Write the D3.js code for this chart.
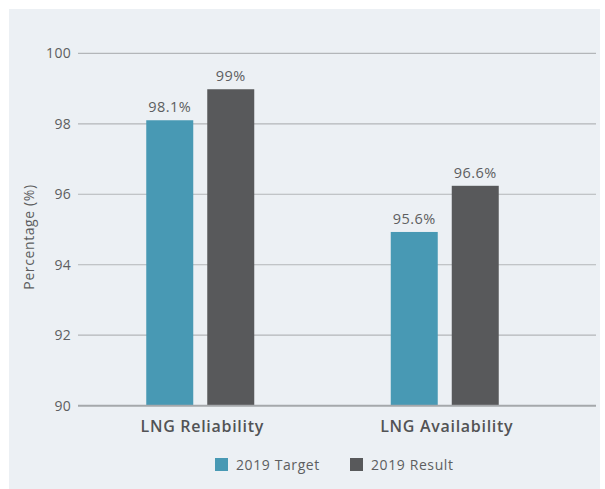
<!DOCTYPE html>
<html lang="en">
  <head>
    <title>LNG Reliability and Availability</title>
    <script src="https://cdn.jsdelivr.net/npm/d3@7"></script>
    <style>
      body { margin: 0; background: white; }
      text { font-family: "Open Sans", sans-serif; }
    </style>
  </head>
  <body>
    <div id="container"></div>
    <script>
      // data
      const categories = ["LNG Reliability", "LNG Availability"];
      const series = ["2019 Target", "2019 Result"];
      const targetValues = [98.1, 94.93];
      const resultValues = [98.98, 96.24];
      const targetLabels = ["98.1%", "95.6%"];
      const resultLabels = ["99%", "96.6%"];
      const yTicks = [90, 92, 94, 96, 98, 100];

      const W = 605, H = 489;
      const colors = ["#4899b4", "#58595b"];
      const textColor = "#5d5e60";

      const svg = d3.select("#container").append("svg")
        .attr("width", W).attr("height", H);

      svg.append("rect")
        .attr("x", 9).attr("y", 9)
        .attr("width", 591).attr("height", H - 9)
        .attr("fill", "#ecf0f4");

      const y = d3.scaleLinear().domain([90, 100]).range([405.7, 53.3]);
      const x = d3.scaleBand().domain(categories).range([78, 567]);
      const xs = d3.scaleBand().domain(series).range([-54, 54]).paddingInner(0.2295);

      // gridlines
      svg.append("g")
        .selectAll("line")
        .data(yTicks.slice(1))
        .enter()
        .append("line")
          .attr("x1", 78).attr("x2", 596)
          .attr("y1", d => y(d)).attr("y2", d => y(d))
          .attr("stroke", "#b3b6b9").attr("stroke-width", 1.2);

      // y axis labels
      const yAxis = svg.append("g")
        .attr("transform", "translate(78,0)")
        .call(d3.axisLeft(y).tickValues(yTicks).tickSize(0).tickPadding(7));
      yAxis.select(".domain").remove();
      yAxis.selectAll("text")
        .style("font-size", "14px").style("letter-spacing", "0.3px")
        .attr("fill", textColor);

      svg.append("text")
        .attr("transform", "translate(34,237) rotate(-90)")
        .attr("text-anchor", "middle")
        .style("font-size", "14px")
        .style("letter-spacing", "0.6px")
        .attr("fill", textColor)
        .text("Percentage (%)");

      const rows = categories.map((c, i) => ({
        cat: c,
        vals: [
          {s: series[0], v: targetValues[i], label: targetLabels[i]},
          {s: series[1], v: resultValues[i], label: resultLabels[i]}
        ]
      }));

      const groups = svg.append("g")
        .selectAll("g")
        .data(rows)
        .enter()
        .append("g")
          .attr("transform", d => `translate(${x(d.cat) + x.bandwidth() / 2},0)`);

      groups.selectAll("rect")
        .data(d => d.vals)
        .enter()
        .append("rect")
          .attr("x", d => xs(d.s))
          .attr("y", d => y(d.v))
          .attr("width", xs.bandwidth())
          .attr("height", d => y(90) - y(d.v))
          .attr("fill", (d, i) => colors[i]);

      groups.selectAll("text")
        .data(d => d.vals)
        .enter()
        .append("text")
          .attr("x", d => xs(d.s) + xs.bandwidth() / 2)
          .attr("y", d => y(d.v) - 8)
          .attr("text-anchor", "middle")
          .style("font-size", "14.5px")
          .style("letter-spacing", "0.5px")
          .attr("fill", textColor)
          .text(d => d.label);

      // baseline
      svg.append("line")
        .attr("x1", 78).attr("x2", 596)
        .attr("y1", y(90)).attr("y2", y(90))
        .attr("stroke", "#a5a8ab").attr("stroke-width", 2);

      // category labels
      svg.append("g")
        .selectAll("text")
        .data(categories)
        .enter()
        .append("text")
          .attr("x", d => x(d) + x.bandwidth() / 2 + 2)
          .attr("y", 432)
          .attr("text-anchor", "middle")
          .style("font-size", "16px")
          .style("font-weight", 600)
          .style("letter-spacing", "0.7px")
          .attr("fill", "#525355")
          .text(d => d);

      // legend
      const legendX = [215, 350];
      const legend = svg.append("g")
        .selectAll("g")
        .data(series)
        .enter()
        .append("g")
          .attr("transform", (d, i) => `translate(${legendX[i]},458)`);
      legend.append("rect")
        .attr("width", 13).attr("height", 13)
        .attr("fill", (d, i) => colors[i]);
      legend.append("text")
        .attr("x", 21).attr("y", 12)
        .style("font-size", "14px")
        .style("letter-spacing", "0.6px")
        .attr("fill", textColor)
        .text(d => d);
    </script>
  </body>
</html>
